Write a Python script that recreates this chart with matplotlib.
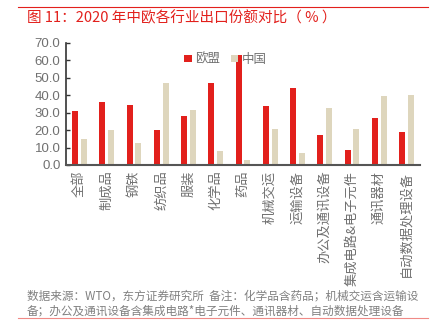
import matplotlib.pyplot as plt
import matplotlib.lines as mlines
import numpy as np

plt.rcParams['font.family'] = ['Noto Sans CJK SC', 'DejaVu Sans']

categories = ['全部', '制成品', '钢铁', '纺织品', '服装', '化学品', '药品', '机械交运',
              '运输设备', '办公及通讯设备', '集成电路&电子元件', '通讯器材', '自动数据处理设备']
eu_share = [31.2, 36.2, 34.5, 19.9, 28.2, 47.3, 62.9, 33.7, 44.1, 17.4, 8.6, 26.8, 18.8]
cn_share = [15.1, 20.3, 12.6, 47.3, 31.6, 7.9, 3.1, 20.7, 6.7, 32.8, 20.7, 39.5, 40.2]
yticks = [0, 10, 20, 30, 40, 50, 60, 70]

RED = '#E2201C'
BEIGE = '#DED6BD'
GRAY = '#707070'

fig = plt.figure(figsize=(4.41, 3.21), dpi=100)
fig.patch.set_facecolor('white')

# header / footer rules
fig.add_artist(mlines.Line2D([18/441, 428/441], [1-7/321, 1-7/321], color='#E2201C', lw=0.8))
fig.add_artist(mlines.Line2D([18/441, 428/441], [1-318/321, 1-318/321], color='#F08A86', lw=0.8))

fig.text(27/441, 1-18/321, '图 11：2020 年中欧各行业出口份额对比（ % ）', color=RED,
         fontsize=10.5, ha='left', va='center')

ax = fig.add_axes([66/441, 1-165/321, (420-66)/441, (165-43)/321])
x = np.arange(len(categories))
w = 0.22
ax.bar(x - 0.16, eu_share, w, color=RED, label='欧盟', zorder=2)
ax.bar(x + 0.16, cn_share, w, color=BEIGE, label='中国', zorder=2)

ax.set_xlim(-0.5, len(categories) - 0.5)
ax.set_ylim(0, 70)
ax.set_yticks(yticks)
ax.set_yticklabels([f'{v:.1f}' for v in yticks], color=GRAY, fontsize=9.5,
                   family=['Liberation Sans'])
ax.set_xticks(x)
ax.set_xticklabels(categories, rotation=90, color=GRAY, fontsize=9.5)
ax.tick_params(axis='x', length=0, pad=4)
ax.tick_params(axis='y', direction='in', length=3, color='#333333', width=1, pad=4)
for s in ['top', 'right']:
    ax.spines[s].set_visible(False)
ax.spines['left'].set_color('#333333')
ax.spines['bottom'].set_color('#555555')
ax.spines['left'].set_linewidth(1.2)
ax.spines['bottom'].set_linewidth(1.5)

leg = ax.legend(loc='upper left', bbox_to_anchor=(0.32, 0.96), ncol=2, frameon=False,
                fontsize=9, handlelength=0.6, handleheight=0.6, handletextpad=0.3,
                columnspacing=0.8, borderaxespad=0)
for t in leg.get_texts():
    t.set_color(GRAY)

fig.text(27/441, 1-296/321, '数据来源：WTO，东方证券研究所  备注：化学品含药品；机械交运含运输设',
         color='#808080', fontsize=8.4, ha='left', va='center')
fig.text(27/441, 1-311/321, '备；办公及通讯设备含集成电路*电子元件、通讯器材、自动数据处理设备',
         color='#808080', fontsize=8.4, ha='left', va='center')

fig.savefig('out.png', dpi=100, facecolor='white')
